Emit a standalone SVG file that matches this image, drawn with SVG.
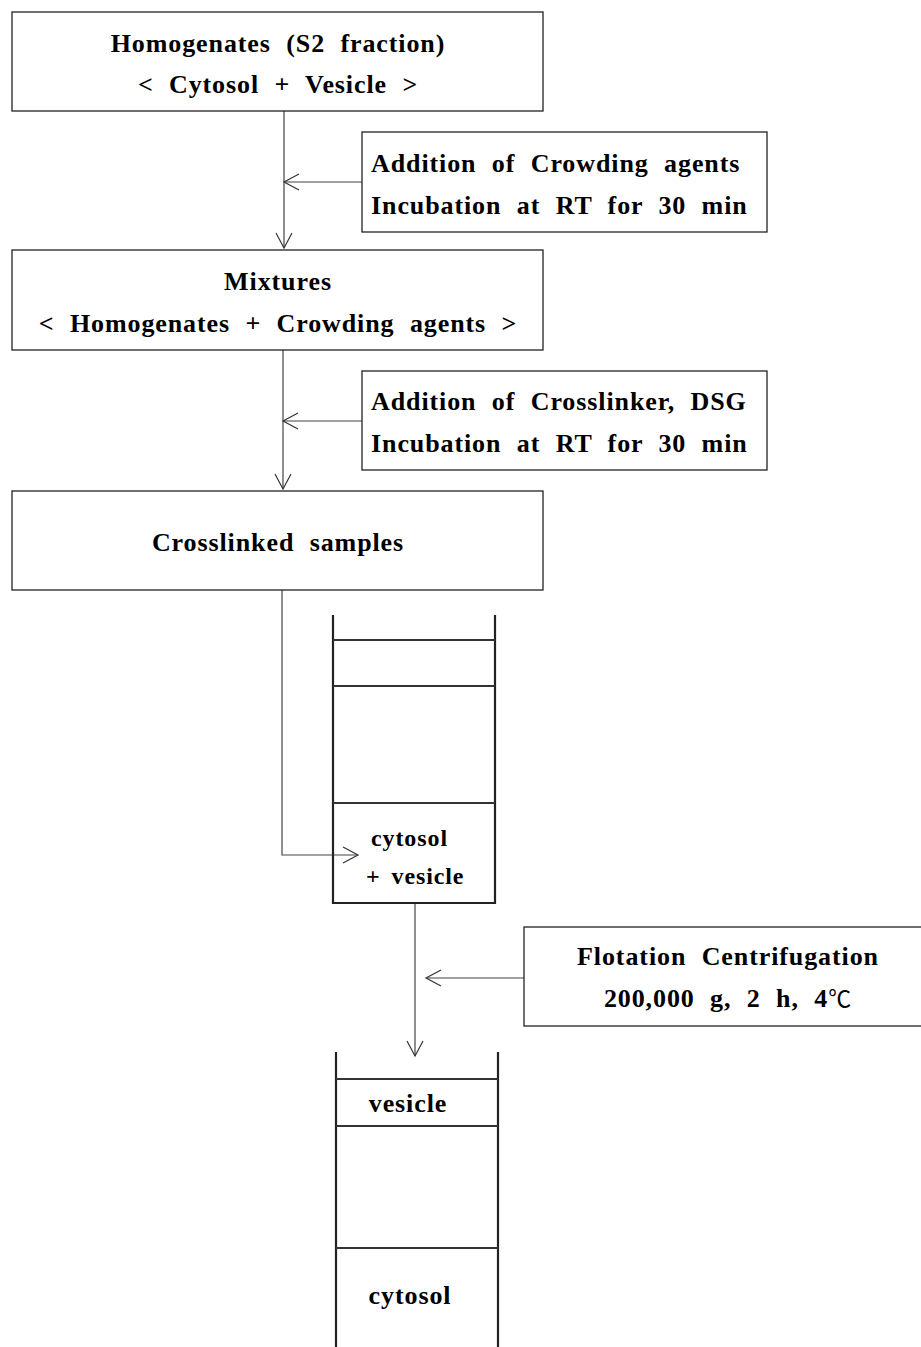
<svg xmlns="http://www.w3.org/2000/svg" width="921" height="1347" viewBox="0 0 921 1347">
<defs>
<marker id="arr" markerWidth="18" markerHeight="18" viewBox="-16 -9 18 18" refX="0" refY="0" orient="auto" markerUnits="userSpaceOnUse">
<path d="M-15,-8 L0,0 L-15,8" fill="none" stroke="#333" stroke-width="1.2"/>
</marker>
<style>
.box{fill:#fff;stroke:#222;stroke-width:1.3}
.t{font-family:"Liberation Serif",serif;font-weight:bold;font-size:26px;fill:#000;letter-spacing:0.9px;word-spacing:8px}
.c{text-anchor:middle}
.ln{fill:none;stroke:#444;stroke-width:1.2}
.wall{fill:none;stroke:#222;stroke-width:2.2}
.layer{fill:none;stroke:#333;stroke-width:2}
.deg{font-weight:normal;font-family:"Noto Sans CJK KR",sans-serif;font-size:23px}
</style>
</defs>
<rect width="921" height="1347" fill="#fff"/>
<g id="connectors">
<line class="ln" x1="284" y1="111" x2="284" y2="248" marker-end="url(#arr)"/>
<line class="ln" x1="362" y1="182" x2="284" y2="182" marker-end="url(#arr)"/>
<line class="ln" x1="283" y1="350" x2="283" y2="489" marker-end="url(#arr)"/>
<line class="ln" x1="362" y1="421" x2="283" y2="421" marker-end="url(#arr)"/>
<polyline class="ln" points="282,590 282,855 358,855" marker-end="url(#arr)"/>
<line class="ln" x1="415" y1="903" x2="415" y2="1056" marker-end="url(#arr)"/>
<line class="ln" x1="524" y1="978" x2="426" y2="978" marker-end="url(#arr)"/>
</g>
<g id="homogenates">
<rect class="box" x="12" y="12" width="531" height="99"/>
<text class="t c" x="278" y="52">Homogenates (S2 fraction)</text>
<text class="t c" x="278" y="93">&lt; Cytosol + Vesicle &gt;</text>
</g>
<g id="step-crowding">
<rect class="box" x="362" y="132" width="405" height="100"/>
<text class="t" x="371" y="172">Addition of Crowding agents</text>
<text class="t" x="371" y="214">Incubation at RT for 30 min</text>
</g>
<g id="mixtures">
<rect class="box" x="12" y="250" width="531" height="100"/>
<text class="t c" x="278" y="290">Mixtures</text>
<text class="t c" x="278" y="332">&lt; Homogenates + Crowding agents &gt;</text>
</g>
<g id="step-crosslinker">
<rect class="box" x="362" y="371" width="405" height="99"/>
<text class="t" x="371" y="410">Addition of Crosslinker, DSG</text>
<text class="t" x="371" y="452">Incubation at RT for 30 min</text>
</g>
<g id="crosslinked">
<rect class="box" x="12" y="491" width="531" height="99"/>
<text class="t c" x="278" y="551">Crosslinked samples</text>
</g>
<g id="tube-before">
<polyline class="wall" points="333,615 333,903 495,903 495,615"/>
<line class="layer" x1="333" y1="640" x2="495" y2="640"/>
<line class="layer" x1="333" y1="686" x2="495" y2="686"/>
<line class="layer" x1="333" y1="803" x2="495" y2="803"/>
<text class="t" x="371" y="846" style="font-size:24px">cytosol</text>
<text class="t" x="366" y="884" style="font-size:24px;word-spacing:4px">+ vesicle</text>
</g>
<g id="step-flotation">
<rect class="box" x="524" y="927" width="410" height="99"/>
<text class="t c" x="728" y="965">Flotation Centrifugation</text>
<text class="t c" x="728" y="1007">200,000 g, 2 h, 4<tspan class="deg">℃</tspan></text>
</g>
<g id="tube-after">
<line class="wall" x1="336" y1="1052" x2="336" y2="1347"/>
<line class="wall" x1="498" y1="1052" x2="498" y2="1347"/>
<line class="layer" x1="336" y1="1079" x2="498" y2="1079"/>
<line class="layer" x1="336" y1="1126" x2="498" y2="1126"/>
<line class="layer" x1="336" y1="1248" x2="498" y2="1248"/>
<text class="t c" x="408" y="1112">vesicle</text>
<text class="t c" x="410" y="1304">cytosol</text>
</g>
</svg>
